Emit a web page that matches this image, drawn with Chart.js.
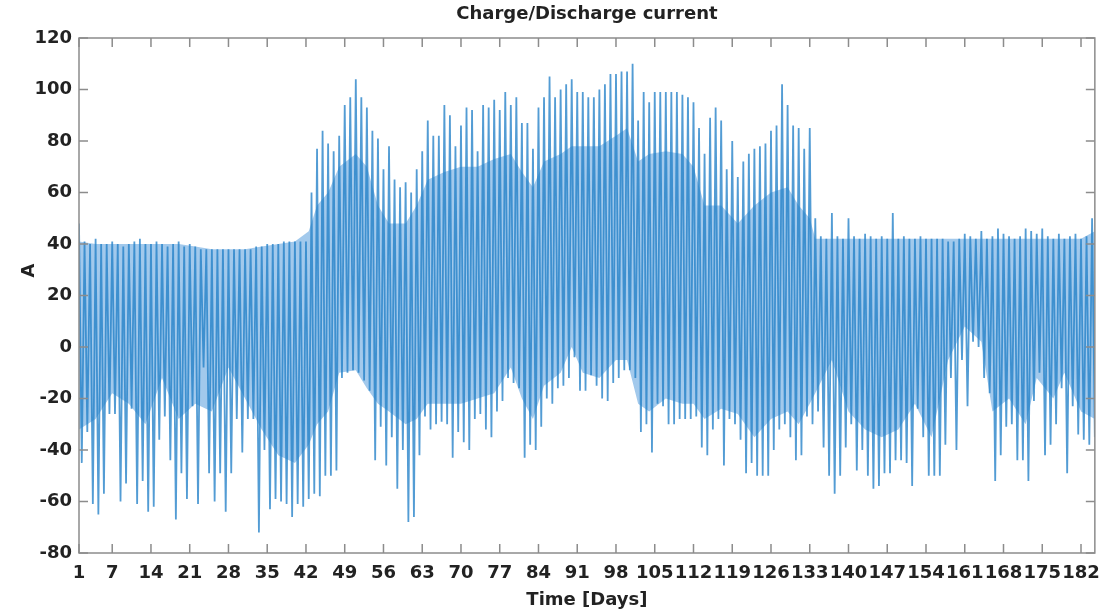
<!DOCTYPE html>
<html>
<head>
<meta charset="utf-8">
<script src="https://cdn.jsdelivr.net/npm/chart.js@4.4.1/dist/chart.umd.min.js"></script>
<style>
  html, body { margin: 0; padding: 0; background: #fff; }
</style>
</head>
<body>
<canvas id="chart" width="1110" height="613"></canvas>
<script>
// day numbers 1..184
const days = [];
for (let d = 1; d <= 184; d++) days.push(d);

// daily peak current (A)
const dailyMax = [
  48, 41, 40, 42, 40, 40, 41, 40, 39, 40, 41, 42, 40, 40, 41, 40, 39, 40, 41, 39,
  40, 39, 38, 38, 38, 38, 38, 38, 38, 38, 38, 38, 39, 39, 40, 40, 40, 41, 41, 41,
  41, 41, 60, 77, 84, 79, 76, 82, 94, 97, 104, 97, 93, 84, 81, 69, 78, 65, 62, 64,
  60, 69, 76, 88, 82, 82, 94, 90, 78, 86, 93, 92, 76, 94, 93, 96, 92, 99, 94, 97,
  87, 87, 77, 93, 97, 105, 97, 100, 102, 104, 99, 99, 97, 97, 100, 102, 106, 106, 107, 107,
  110, 88, 99, 95, 99, 99, 99, 99, 99, 98, 97, 95, 85, 75, 89, 93, 88, 69, 80, 66,
  72, 75, 77, 78, 79, 84, 86, 102, 94, 86, 85, 77, 85, 50, 43, 42, 52, 43, 42, 50,
  43, 42, 44, 43, 42, 43, 42, 52, 42, 43, 42, 42, 43, 42, 42, 42, 42, 41, 41, 42,
  44, 43, 42, 45, 42, 43, 46, 44, 43, 42, 43, 46, 45, 44, 46, 43, 42, 44, 42, 43,
  44, 42, 43, 50
];

// daily lowest (discharge) current (A)
const dailyMin = [
  -45, -33, -61, -65, -57, -26, -26, -60, -53, -24, -61, -52, -64, -62, -36, -27, -44, -67, -49, -59,
  -23, -61, -8, -49, -60, -49, -64, -49, -28, -41, -28, -28, -72, -40, -63, -59, -60, -61, -66, -61,
  -62, -59, -57, -58, -50, -50, -48, -12, -10, -9, -10, -13, -17, -44, -31, -46, -35, -55, -40, -68,
  -66, -42, -27, -32, -30, -29, -30, -43, -33, -37, -40, -28, -26, -32, -35, -25, -21, -12, -14, -16,
  -43, -38, -40, -31, -20, -22, -16, -15, -12, -4, -17, -17, -11, -15, -20, -21, -14, -12, -9, -9,
  -12, -33, -30, -41, -22, -23, -30, -30, -28, -28, -28, -27, -39, -42, -32, -28, -46, -28, -30, -36,
  -49, -45, -50, -50, -50, -40, -32, -30, -35, -44, -42, -27, -30, -25, -39, -50, -57, -50, -39, -30,
  -48, -40, -50, -55, -54, -49, -49, -44, -44, -45, -54, -24, -35, -50, -50, -50, -38, -12, -40, -5,
  -23, 2, 0, -12, -18, -52, -42, -31, -30, -44, -44, -52, -21, -10, -42, -38, -30, -16, -49, -23,
  -34, -36, -38, -35
];

// dense body of the trace (where the fast swings overlap)
const bandDays   = [1, 4, 7, 10, 13, 16, 19, 22, 25, 28, 31, 34, 37, 40, 42.5, 44, 46, 48, 51, 53,
                    55, 57, 60, 62, 64, 67, 70, 73, 76, 79, 81, 83, 85, 88, 90, 92, 95, 98, 100, 102,
                    104, 107, 110, 112, 114, 117, 120, 123, 126, 129, 131, 133, 134, 137, 140, 143, 146, 149, 152, 155,
                    158, 161, 164, 166, 169, 172, 174, 177, 179, 182, 184.5];
const bandTop    = [41, 40, 40, 40, 40, 40, 40, 39, 38, 38, 38, 39, 40, 41, 45, 55, 60, 70, 75, 70,
                    55, 48, 48, 55, 65, 68, 70, 70, 73, 75, 68, 62, 72, 75, 78, 78, 78, 82, 85, 72,
                    75, 76, 75, 70, 55, 55, 48, 55, 60, 62, 55, 50, 42, 42, 42, 42, 42, 42, 42, 42,
                    42, 42, 42, 42, 42, 42, 42, 42, 42, 42, 45];
const bandBottom = [-32, -28, -18, -22, -30, -12, -28, -22, -25, -8, -20, -32, -42, -45, -38, -30, -25, -10, -9, -16,
                    -22, -25, -30, -28, -22, -22, -22, -20, -18, -8, -20, -28, -15, -10, 0, -10, -12, -5, -5, -22,
                    -25, -20, -22, -22, -28, -24, -26, -35, -28, -25, -30, -22, -18, -5, -25, -32, -35, -32, -22, -35,
                    -5, 8, 2, -25, -20, -30, -12, -20, -10, -25, -28];

const xTicks = [1, 7, 14, 21, 28, 35, 42, 49, 56, 63, 70, 77, 84, 91, 98, 105, 112, 119, 126, 133,
                140, 147, 154, 161, 168, 175, 182];

// trace: peak at the start of each day, lowest point half a day later
const trace = [];
days.forEach((d, i) => {
  trace.push({ x: d, y: dailyMax[i] });
  trace.push({ x: d + 0.5, y: dailyMin[i] });
});

const bandHi = bandDays.map((d, i) => ({ x: d, y: bandTop[i] }));
const bandLo = bandDays.map((d, i) => ({ x: d, y: bandBottom[i] }));

// MATLAB style box with inward ticks on all four sides
const matlabAxes = {
  id: 'matlabAxes',
  afterDraw(chart) {
    const { ctx, chartArea: a } = chart;
    const xs = chart.scales.x, ys = chart.scales.y;
    const len = 9;
    ctx.save();
    ctx.strokeStyle = '#8c8c8c';
    ctx.lineWidth = 1.5;
    ctx.strokeRect(a.left, a.top, a.right - a.left, a.bottom - a.top);
    ctx.beginPath();
    xs.ticks.forEach(t => {
      const px = xs.getPixelForValue(t.value);
      ctx.moveTo(px, a.bottom); ctx.lineTo(px, a.bottom - len);
      ctx.moveTo(px, a.top); ctx.lineTo(px, a.top + len);
    });
    ys.ticks.forEach(t => {
      const py = ys.getPixelForValue(t.value);
      ctx.moveTo(a.left, py); ctx.lineTo(a.left + len, py);
      ctx.moveTo(a.right, py); ctx.lineTo(a.right - len, py);
    });
    ctx.stroke();
    ctx.restore();
  }
};

const font = { family: 'DejaVu Sans', weight: 'bold', size: 18 };

new Chart(document.getElementById('chart').getContext('2d'), {
  type: 'line',
  data: {
    datasets: [
      {
        data: trace,
        borderColor: 'rgba(35, 128, 200, 0.78)',
        borderWidth: 1.8,
        pointRadius: 0,
        tension: 0,
        fill: false,
        order: 0
      },
      {
        data: bandHi,
        borderWidth: 0,
        borderColor: 'rgba(0,0,0,0)',
        backgroundColor: 'rgba(105, 168, 225, 0.62)',
        pointRadius: 0,
        tension: 0,
        fill: '+1',
        order: 1
      },
      {
        data: bandLo,
        borderWidth: 0,
        borderColor: 'rgba(0,0,0,0)',
        pointRadius: 0,
        tension: 0,
        fill: false,
        order: 2
      }
    ]
  },
  options: {
    responsive: false,
    animation: false,
    events: [],
    layout: { padding: { left: 0, right: 3, top: 0, bottom: 0 } },
    plugins: {
      legend: { display: false },
      tooltip: { enabled: false },
      title: {
        display: true,
        text: 'Charge/Discharge current',
        color: '#222',
        fullSize: false,
        font: font,
        padding: { top: 4, bottom: 12.4 }
      }
    },
    scales: {
      x: {
        type: 'linear',
        min: 1,
        max: 184.5,
        afterBuildTicks: s => { s.ticks = xTicks.map(v => ({ value: v })); },
        afterFit: s => { s.height = 60; },
        grid: { display: false, drawTicks: false },
        border: { display: false },
        ticks: {
          color: '#222',
          font: font,
          padding: 10,
          autoSkip: false,
          maxRotation: 0,
          callback: v => String(v)
        },
        title: {
          display: true,
          text: 'Time [Days]',
          color: '#222',
          font: font,
          padding: { top: 0, bottom: 2 }
        }
      },
      y: {
        min: -80,
        max: 120,
        afterFit: s => { s.width = 79; },
        grid: { display: false, drawTicks: false },
        border: { display: false },
        ticks: {
          color: '#222',
          font: font,
          padding: 7,
          stepSize: 20
        },
        title: {
          display: true,
          text: '        A',
          color: '#222',
          font: font,
          padding: { top: 19, bottom: 0 }
        }
      }
    }
  },
  plugins: [matlabAxes]
});
</script>
</body>
</html>
